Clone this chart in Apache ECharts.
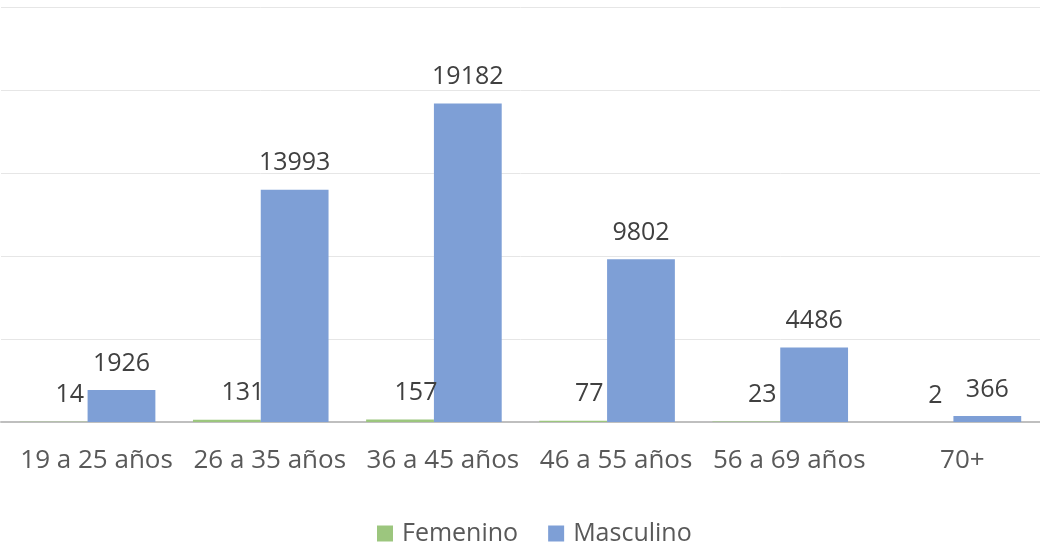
<html>
<head>
<meta charset="utf-8">
<script src="https://cdn.jsdelivr.net/npm/echarts@6/dist/echarts.min.js"></script>
<style>
  body { margin: 0; padding: 0; background: #fff; }
  #main { width: 1040px; height: 545px; }
</style>
</head>
<body>
<div id="main"></div>
<script type="text/javascript">
// datos por grupo de edad
var categorias = ['19 a 25 años', '26 a 35 años', '36 a 45 años', '46 a 55 años', '56 a 69 años', '70+'];
var femenino = [14, 131, 157, 77, 23, 2];
var masculino = [1926, 13993, 19182, 9802, 4486, 366];
var nombres = ['Femenino', 'Masculino'];

var fuente = '"Open Sans", "Noto Sans", sans-serif';
var myChart = echarts.init(document.getElementById('main'));

myChart.setOption({
    animation: false,
    color: ['#9CC67E', '#7E9FD6'],
    grid: { left: 1, right: -2, top: 7, bottom: 123 },
    legend: {
        data: nombres,
        left: 372,
        top: 516,
        icon: 'rect',
        itemWidth: 16,
        itemHeight: 16,
        itemGap: 30,
        textStyle: { fontFamily: fuente, fontSize: 25, color: '#595959', padding: [0, 0, 0, 4] }
    },
    xAxis: {
        type: 'category',
        data: categorias,
        axisTick: { show: false },
        axisLine: { lineStyle: { color: '#BFBFBF', width: 2 } },
        axisLabel: { fontFamily: fuente, fontSize: 26, color: '#595959', margin: 26, interval: 0, padding: [0, 0, 0, 18] }
    },
    yAxis: {
        type: 'value',
        min: 0,
        max: 25000,
        interval: 5000,
        axisLabel: { show: false },
        axisLine: { show: false },
        axisTick: { show: false },
        splitLine: { lineStyle: { color: '#E6E6E6', width: 1 } }
    },
    series: [
        {
            name: nombres[0],
            type: 'bar',
            data: femenino,
            barGap: '0%',
            barCategoryGap: '21.7%',
            label: { show: true, position: 'top', distance: 14, offset: [16, 0], fontFamily: fuente, fontSize: 25, color: '#404040' }
        },
        {
            name: nombres[1],
            type: 'bar',
            data: masculino,
            barGap: '0%',
            barCategoryGap: '21.7%',
            label: { show: true, position: 'top', distance: 14, fontFamily: fuente, fontSize: 25, color: '#404040' }
        }
    ]
});
</script>
</body>
</html>
